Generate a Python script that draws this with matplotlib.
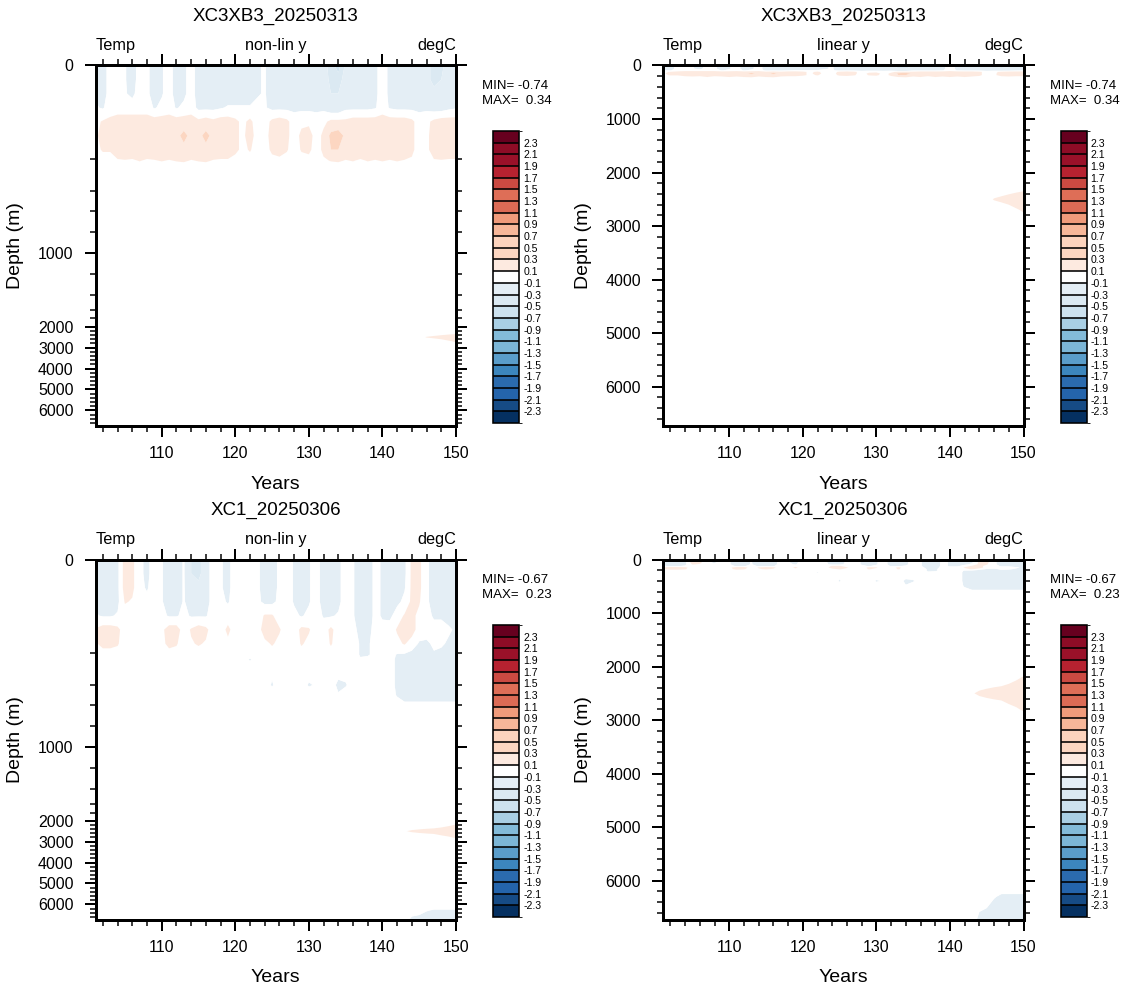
import numpy as np
import matplotlib
matplotlib.use("Agg")
import matplotlib.pyplot as plt
import matplotlib.colorbar as mcolorbar
from matplotlib.colors import ListedColormap, BoundaryNorm
from matplotlib.ticker import FixedLocator, NullFormatter

plt.rcParams["font.family"] = ["Liberation Sans", "DejaVu Sans"]

# ---------------------------------------------------------------- data
years = np.arange(101, 151)          # annual means, model years 101..150

# XC3XB3_20250313 : temperature anomaly (degC), rows = depth levels
depth_xc3xb3 = [0, 30, 60, 90, 120, 150, 180, 210, 240, 2000, 2300, 2500, 2700, 3000, 6725]
temp_xc3xb3 = [
    # 0 m
    [-.12, -.2, 0, 0, -.08, -.2, 0, -.05, -.2, -.12,
     0, -.2, -.15, 0, -.2, -.2, -.2, -.15, -.2, -.2,
     -.2, -.2, -.12, -.08, -.2, -.2, -.2, -.2, -.2, -.2,
     -.2, -.2, -.4, -.6, -.25, -.2, -.2, -.2, -.15, 0,
     -.15, -.2, -.2, -.2, -.2, -.25, -.35, -.35, -.2, -.2],
    # 30 m
    [-.12, -.2, 0, 0, -.08, -.2, 0, -.05, -.2, -.12,
     0, -.2, -.15, 0, -.2, -.2, -.2, -.15, -.2, -.2,
     -.2, -.2, -.12, -.08, -.2, -.2, -.2, -.2, -.2, -.2,
     -.2, -.2, -.35, -.4, -.2, -.2, -.2, -.2, -.15, 0,
     -.15, -.2, -.2, -.2, -.2, -.25, -.35, -.3, -.2, -.2],
    # 60 m
    [-.12, -.2, 0, 0, -.08, -.15, 0, -.05, -.2, -.12,
     0, -.2, -.15, 0, -.2, -.2, -.2, -.15, -.2, -.2,
     -.2, -.2, -.12, -.08, -.2, -.2, -.2, -.2, -.2, -.2,
     -.2, -.2, -.3, -.3, -.2, -.2, -.2, -.2, -.15, 0,
     -.15, -.2, -.2, -.2, -.2, -.2, -.25, -.25, -.2, -.2],
    # 90 m
    [-.08, -.12, 0, 0, 0, 0, 0, 0, -.12, -.05,
     0, -.12, -.05, 0, -.15, -.15, -.15, -.12, -.08, -.08,
     -.08, -.08, -.05, -.08, -.15, -.15, -.15, -.15, -.15, -.15,
     -.15, -.15, -.25, -.25, -.15, -.15, -.15, -.15, -.12, 0,
     -.12, -.15, -.15, -.15, -.15, -.15, -.2, -.2, -.15, -.12],
    # 120 m
    [.05, .12, .15, .2, .2, .2, .2, .2, .2, .2,
     .2, .2, .2, .2, .15, .2, .15, .2, .2, .15,
     .05, .15, 0, 0, .15, .2, .15, 0, .05, .05,
     0, .05, .15, .15, .15, .2, .2, .2, .2, .2,
     .2, .2, .2, .15, 0, .05, .15, .2, .2, .2],
    # 150 m
    [.05, .2, .2, .2, .2, .2, .2, .2, .2, .2,
     .2, .25, .35, .25, .25, .35, .25, .2, .2, .15,
     .05, .2, 0, 0, .2, .2, .15, 0, .15, .2,
     0, .15, .35, .4, .25, .2, .2, .2, .2, .2,
     .2, .2, .2, .15, 0, .05, .2, .2, .2, .2],
    # 180 m
    [.05, .12, .12, .2, .2, .2, .2, .2, .2, .2,
     .2, .2, .25, .2, .2, .25, .2, .2, .2, .15,
     .05, .12, 0, 0, .15, .2, .12, 0, .12, .15,
     0, .15, .3, .3, .2, .2, .2, .2, .2, .2,
     .2, .2, .2, .15, 0, .05, .2, .2, .2, .2],
    # 210 m
    [0, 0, 0, .05, .08, .05, .12, .05, .08, .12,
     .08, .12, .15, .08, .12, .15, .08, .05, .05, 0,
     0, 0, 0, 0, 0, 0, 0, 0, 0, 0,
     0, .05, .12, .15, .08, .12, .05, .12, .08, .12,
     .08, .12, .08, .05, 0, 0, .05, .08, .05, .05],
    # 240 m
    [0, 0, 0, 0, 0, 0, 0, 0, 0, 0,
     0, 0, 0, 0, 0, 0, 0, 0, 0, 0,
     0, 0, 0, 0, 0, 0, 0, 0, 0, 0,
     0, 0, 0, 0, 0, 0, 0, 0, 0, 0,
     0, 0, 0, 0, 0, 0, 0, 0, 0, 0],
    # 2000 m
    [0, 0, 0, 0, 0, 0, 0, 0, 0, 0,
     0, 0, 0, 0, 0, 0, 0, 0, 0, 0,
     0, 0, 0, 0, 0, 0, 0, 0, 0, 0,
     0, 0, 0, 0, 0, 0, 0, 0, 0, 0,
     0, 0, 0, 0, 0, 0, 0, 0, 0, 0],
    # 2300 m
    [0, 0, 0, 0, 0, 0, 0, 0, 0, 0,
     0, 0, 0, 0, 0, 0, 0, 0, 0, 0,
     0, 0, 0, 0, 0, 0, 0, 0, 0, 0,
     0, 0, 0, 0, 0, 0, 0, 0, 0, 0,
     0, 0, 0, 0, 0, 0, 0, .02, .04, .06],
    # 2500 m
    [0, 0, 0, 0, 0, 0, 0, 0, 0, 0,
     0, 0, 0, 0, 0, 0, 0, 0, 0, 0,
     0, 0, 0, 0, 0, 0, 0, 0, 0, 0,
     0, 0, 0, 0, 0, 0, 0, 0, 0, 0,
     0, 0, 0, 0, .05, .11, .14, .17, .2, .22],
    # 2700 m
    [0, 0, 0, 0, 0, 0, 0, 0, 0, 0,
     0, 0, 0, 0, 0, 0, 0, 0, 0, 0,
     0, 0, 0, 0, 0, 0, 0, 0, 0, 0,
     0, 0, 0, 0, 0, 0, 0, 0, 0, 0,
     0, 0, 0, 0, 0, 0, 0, .03, .08, .12],
    # 3000 m
    [0, 0, 0, 0, 0, 0, 0, 0, 0, 0,
     0, 0, 0, 0, 0, 0, 0, 0, 0, 0,
     0, 0, 0, 0, 0, 0, 0, 0, 0, 0,
     0, 0, 0, 0, 0, 0, 0, 0, 0, 0,
     0, 0, 0, 0, 0, 0, 0, 0, 0, 0],
    # 6725 m
    [0, 0, 0, 0, 0, 0, 0, 0, 0, 0,
     0, 0, 0, 0, 0, 0, 0, 0, 0, 0,
     0, 0, 0, 0, 0, 0, 0, 0, 0, 0,
     0, 0, 0, 0, 0, 0, 0, 0, 0, 0,
     0, 0, 0, 0, 0, 0, 0, 0, 0, 0],
]

# XC1_20250306 : temperature anomaly (degC)
depth_xc1 = [0, 30, 60, 90, 120, 150, 180, 210, 240, 300, 400, 500, 600,
             1000, 2000, 2200, 2500, 2800, 3000, 6000, 6300, 6725]
temp_xc1 = [
    # 0 m
    [-.15, -.2, -.2, -.15, .2, .15, -.05, -.15, 0, -.08,
     -.2, -.2, -.08, -.3, -.35, -.2, 0, -.08, -.15, 0,
     0, 0, -.05, -.2, -.2, -.05, 0, -.12, -.2, -.12,
     0, -.2, -.2, -.15, 0, -.08, -.2, -.2, -.05, -.12,
     -.3, -.2, -.15, .15, .15, -.05, -.2, -.2, -.2, -.1],
    # 30 m
    [-.15, -.2, -.2, -.15, .2, .15, -.05, -.15, 0, -.08,
     -.2, -.2, -.08, -.3, -.35, -.2, 0, -.08, -.15, 0,
     0, 0, -.05, -.2, -.2, -.05, 0, -.12, -.2, -.12,
     0, -.2, -.2, -.15, 0, -.08, -.2, -.2, -.05, -.12,
     -.3, -.2, -.15, .15, .15, -.05, -.2, -.2, -.2, -.1],
    # 60 m
    [-.15, -.2, -.2, -.15, .2, .15, -.05, -.12, 0, -.08,
     -.2, -.2, -.08, -.25, -.25, -.2, 0, -.08, -.15, 0,
     0, 0, -.05, -.2, -.2, -.05, 0, -.12, -.2, -.12,
     0, -.2, -.2, -.15, 0, -.08, -.2, -.2, -.05, -.12,
     -.25, -.2, -.12, .15, .15, -.05, -.2, -.2, -.2, -.12],
    # 90 m
    [-.15, -.2, -.2, -.15, .12, .08, 0, -.05, 0, -.08,
     -.2, -.2, -.08, -.2, -.2, -.2, 0, -.05, -.12, 0,
     0, 0, -.05, -.15, -.15, -.05, 0, -.12, -.2, -.12,
     0, -.2, -.2, -.15, 0, -.08, -.2, -.2, -.05, -.12,
     -.2, -.15, -.05, .15, .12, -.05, -.2, -.2, -.2, -.15],
    # 120 m
    [-.08, -.12, -.12, -.08, 0, 0, 0, 0, 0, -.05,
     -.12, -.12, -.05, -.12, -.12, -.12, 0, 0, 0, 0,
     0, 0, 0, .12, .12, 0, 0, -.05, -.12, -.05,
     0, -.12, -.12, -.08, 0, -.08, -.2, -.2, -.05, -.12,
     -.15, 0, .12, .15, .05, -.05, -.12, -.12, -.15, -.15],
    # 150 m
    [.12, .2, .2, .15, 0, 0, 0, 0, 0, .05,
     .2, .2, 0, .12, .2, .15, 0, 0, .15, 0,
     0, 0, 0, .2, .2, .12, 0, 0, .15, .12,
     0, 0, .15, 0, 0, -.05, -.15, -.15, -.05, -.05,
     0, .12, .2, .2, 0, -.05, -.05, -.05, -.08, -.12],
    # 180 m
    [.08, .15, .15, .12, 0, 0, 0, 0, 0, .05,
     .15, .12, 0, .08, .12, .08, 0, 0, .05, 0,
     0, 0, 0, .05, .12, .05, 0, 0, .12, .05,
     0, 0, .12, 0, 0, 0, -.12, -.12, -.05, 0,
     0, .05, .12, 0, -.12, -.12, -.08, -.08, -.12, -.15],
    # 210 m
    [0, 0, 0, 0, 0, 0, 0, 0, 0, 0,
     0, 0, 0, 0, 0, 0, 0, 0, 0, 0,
     0, 0, 0, 0, 0, 0, 0, 0, 0, 0,
     0, 0, 0, 0, 0, 0, -.12, -.12, -.05, 0,
     0, -.12, -.15, -.2, -.2, -.15, -.12, -.15, -.15, -.2],
    # 240 m
    [0, 0, 0, 0, 0, 0, 0, 0, 0, 0,
     0, 0, 0, 0, 0, 0, 0, 0, 0, 0,
     0, -.12, 0, 0, 0, 0, 0, 0, 0, 0,
     0, 0, 0, 0, 0, 0, -.08, -.05, 0, 0,
     0, -.15, -.2, -.2, -.2, -.2, -.2, -.2, -.2, -.2],
    # 300 m
    [0, 0, 0, 0, 0, 0, 0, 0, 0, 0,
     0, 0, 0, 0, 0, 0, 0, 0, 0, 0,
     0, 0, 0, 0, -.05, 0, 0, 0, 0, 0,
     0, 0, 0, 0, 0, 0, 0, 0, 0, 0,
     0, -.15, -.2, -.2, -.2, -.2, -.2, -.2, -.2, -.2],
    # 400 m
    [0, 0, 0, 0, 0, 0, 0, 0, 0, 0,
     0, 0, 0, 0, 0, 0, 0, 0, 0, 0,
     0, 0, 0, 0, -.12, 0, 0, 0, 0, -.12,
     -.08, 0, 0, -.15, -.12, 0, 0, 0, 0, 0,
     0, -.15, -.2, -.2, -.2, -.2, -.2, -.2, -.2, -.2],
    # 500 m
    [0, 0, 0, 0, 0, 0, 0, 0, 0, 0,
     0, 0, 0, 0, 0, 0, 0, 0, 0, 0,
     0, 0, 0, 0, 0, 0, 0, 0, 0, 0,
     0, 0, 0, -.08, 0, 0, 0, 0, 0, 0,
     0, -.12, -.2, -.2, -.2, -.2, -.2, -.2, -.2, -.2],
    # 600 m
    [0, 0, 0, 0, 0, 0, 0, 0, 0, 0,
     0, 0, 0, 0, 0, 0, 0, 0, 0, 0,
     0, 0, 0, 0, 0, 0, 0, 0, 0, 0,
     0, 0, 0, 0, 0, 0, 0, 0, 0, 0,
     0, 0, -.05, -.05, -.05, -.05, -.05, -.05, -.05, -.05],
    # 1000 m
    [0, 0, 0, 0, 0, 0, 0, 0, 0, 0,
     0, 0, 0, 0, 0, 0, 0, 0, 0, 0,
     0, 0, 0, 0, 0, 0, 0, 0, 0, 0,
     0, 0, 0, 0, 0, 0, 0, 0, 0, 0,
     0, 0, 0, 0, 0, 0, 0, 0, 0, 0],
    # 2000 m
    [0, 0, 0, 0, 0, 0, 0, 0, 0, 0,
     0, 0, 0, 0, 0, 0, 0, 0, 0, 0,
     0, 0, 0, 0, 0, 0, 0, 0, 0, 0,
     0, 0, 0, 0, 0, 0, 0, 0, 0, 0,
     0, 0, 0, 0, 0, 0, 0, 0, 0, 0],
    # 2200 m
    [0, 0, 0, 0, 0, 0, 0, 0, 0, 0,
     0, 0, 0, 0, 0, 0, 0, 0, 0, 0,
     0, 0, 0, 0, 0, 0, 0, 0, 0, 0,
     0, 0, 0, 0, 0, 0, 0, 0, 0, 0,
     0, 0, 0, 0, 0, 0, 0, .03, .07, .11],
    # 2500 m
    [0, 0, 0, 0, 0, 0, 0, 0, 0, 0,
     0, 0, 0, 0, 0, 0, 0, 0, 0, 0,
     0, 0, 0, 0, 0, 0, 0, 0, 0, 0,
     0, 0, 0, 0, 0, 0, 0, 0, 0, 0,
     0, 0, .09, .12, .14, .16, .18, .2, .22, .24],
    # 2800 m
    [0, 0, 0, 0, 0, 0, 0, 0, 0, 0,
     0, 0, 0, 0, 0, 0, 0, 0, 0, 0,
     0, 0, 0, 0, 0, 0, 0, 0, 0, 0,
     0, 0, 0, 0, 0, 0, 0, 0, 0, 0,
     0, 0, 0, 0, 0, 0, 0, .05, .08, .12],
    # 3000 m
    [0, 0, 0, 0, 0, 0, 0, 0, 0, 0,
     0, 0, 0, 0, 0, 0, 0, 0, 0, 0,
     0, 0, 0, 0, 0, 0, 0, 0, 0, 0,
     0, 0, 0, 0, 0, 0, 0, 0, 0, 0,
     0, 0, 0, 0, 0, 0, 0, 0, 0, 0],
    # 6000 m
    [0, 0, 0, 0, 0, 0, 0, 0, 0, 0,
     0, 0, 0, 0, 0, 0, 0, 0, 0, 0,
     0, 0, 0, 0, 0, 0, 0, 0, 0, 0,
     0, 0, 0, 0, 0, 0, 0, 0, 0, 0,
     0, 0, 0, 0, 0, 0, 0, 0, 0, 0],
    # 6300 m
    [0, 0, 0, 0, 0, 0, 0, 0, 0, 0,
     0, 0, 0, 0, 0, 0, 0, 0, 0, 0,
     0, 0, 0, 0, 0, 0, 0, 0, 0, 0,
     0, 0, 0, 0, 0, 0, 0, 0, 0, 0,
     0, 0, 0, 0, -.05, -.09, -.12, -.12, -.12, -.12],
    # 6725 m
    [0, 0, 0, 0, 0, 0, 0, 0, 0, 0,
     0, 0, 0, 0, 0, 0, 0, 0, 0, 0,
     0, 0, 0, 0, 0, 0, 0, 0, 0, 0,
     0, 0, 0, 0, 0, 0, 0, 0, 0, 0,
     0, 0, 0, -.15, -.15, -.2, -.2, -.2, -.2, -.2],
]

titles = ["XC3XB3_20250313", "XC1_20250306"]
field_min = [-0.74, -0.67]
field_max = [0.34, 0.23]

levels = [-2.3, -2.1, -1.9, -1.7, -1.5, -1.3, -1.1, -0.9, -0.7, -0.5, -0.3, -0.1,
          0.1, 0.3, 0.5, 0.7, 0.9, 1.1, 1.3, 1.5, 1.7, 1.9, 2.1, 2.3]

# ---------------------------------------------------------------- style
fill_colors = ["#053061", "#164b85", "#2464ab", "#2b6bae", "#3c86bd", "#5a9dca",
               "#7cb6d6", "#83bbd9", "#a9cfe4", "#cde2ef", "#dbe9f2", "#e4eef5",
               "#ffffff",
               "#fdeae0", "#fcd6c1", "#fcd3bd", "#f7b799", "#f09b7b", "#dc6b55",
               "#de6e57", "#cb4a42", "#b72230", "#9a1129", "#8e0c26", "#67001f"]

cmap_fill = ListedColormap(fill_colors[1:-1])
cmap_fill.set_under(fill_colors[0])
cmap_fill.set_over(fill_colors[-1])
norm_fill = BoundaryNorm(levels, cmap_fill.N)

# irregular ("non-lin") depth axis: depth -> fraction of axis height
DEPTH_KNOTS = [0, 200, 400, 600, 800, 1000, 1200, 1400, 1600, 1800, 2000, 6725]
POS_KNOTS = np.array([0, 93.5, 125.5, 145.5, 166.5, 187.2, 208.5, 229.5,
                      244.5, 253.0, 261.2, 360.0]) / 360.0
ZMAX = 6725


def nonlin_fwd(d):
    return np.interp(d, DEPTH_KNOTS, POS_KNOTS)


def nonlin_inv(p):
    return np.interp(p, POS_KNOTS, DEPTH_KNOTS)


W, H = 1132, 991
fig = plt.figure(figsize=(W / 100, H / 100), dpi=100)


def px_rect(left, top, w, h):
    return [left / W, 1 - (top + h) / H, w / W, h / H]


def ftext(x, y, s, **kw):
    fig.text(x / W, 1 - y / H, s, **kw)


PX = 72.0 / 100.0   # points per pixel
panel_left = [95.5, 663.0]
row_top = [65.5, 559.5]

for r, (depth, temp) in enumerate([(depth_xc3xb3, temp_xc3xb3), (depth_xc1, temp_xc1)]):
    for c, ytype in enumerate(["non-lin y", "linear y"]):
        left = panel_left[c]
        top = row_top[r]
        ax = fig.add_axes(px_rect(left, top, 360.5, 360))
        if c == 0:
            ax.set_yscale("function", functions=(nonlin_fwd, nonlin_inv))
        ax.contourf(years, depth, np.array(temp), levels=levels, cmap=cmap_fill,
                    norm=norm_fill, extend="both", antialiased=True)
        ax.set_xlim(101, 150)
        ax.set_ylim(ZMAX, 0)

        ax.xaxis.set_major_locator(FixedLocator([110, 120, 130, 140, 150]))
        ax.xaxis.set_minor_locator(FixedLocator([v for v in range(102, 150, 2) if v % 10]))
        ax.yaxis.set_major_locator(FixedLocator([0, 1000, 2000, 3000, 4000, 5000, 6000]))
        if c == 0:
            yminor = [200, 400, 600, 800, 1200, 1400, 1600, 1800] + \
                     [v for v in range(2200, 6725, 200) if v % 1000]
        else:
            yminor = [v for v in range(200, 6725, 200) if v % 1000]
        ax.yaxis.set_minor_locator(FixedLocator(yminor))
        ax.yaxis.set_minor_formatter(NullFormatter())
        ax.set_xticklabels(["110", "120", "130", "140", "150"])
        ax.set_yticklabels(["0", "1000", "2000", "3000", "4000", "5000", "6000"])

        ax.tick_params(which="both", direction="out", top=True, right=True,
                       labelsize=11.5, color="black")
        ax.tick_params(which="major", length=11 * PX, width=2.0 * PX)
        ax.tick_params(which="minor", length=6 * PX, width=1.5 * PX)
        ax.tick_params(axis="x", which="major", pad=10 * PX)
        ax.tick_params(axis="y", which="major", pad=11 * PX)
        for sp in ax.spines.values():
            sp.set_linewidth(3.0 * PX)

        cx = left + 180
        ftext(cx, top - 49.5, titles[r], ha="center", va="center", fontsize=13.5)
        ftext(left, top - 15.5, "Temp", ha="left", va="baseline", fontsize=11.7)
        ftext(cx, top - 15.5, ytype, ha="center", va="baseline", fontsize=11.7)
        ftext(left + 360.5, top - 15.5, "degC", ha="right", va="baseline", fontsize=11.7)
        ftext(cx, top + 418.5, "Years", ha="center", va="center", fontsize=14)
        ftext(left - 80, top + 180, "Depth (m)", ha="center", va="center",
              rotation=90, fontsize=14)

        # MIN / MAX annotation
        ftext(left + 386.5, top + 20.5, "MIN= %.2f" % field_min[r], ha="left",
              va="center", fontsize=9.5)
        ftext(left + 386.5, top + 35.5, "MAX=  %.2f" % field_max[r], ha="left",
              va="center", fontsize=9.5)

        # label bar
        cax = fig.add_axes(px_rect(left + 397.5, top + 65.5, 26, 292))
        bounds = [-2.5] + levels + [2.5]
        cb = mcolorbar.ColorbarBase(cax, cmap=ListedColormap(fill_colors),
                                    norm=BoundaryNorm(bounds, len(fill_colors)),
                                    boundaries=bounds, ticks=levels,
                                    spacing="uniform", drawedges=True,
                                    orientation="vertical")
        cb.set_ticklabels(["%.1f" % v for v in levels])
        cb.outline.set_linewidth(1.6 * PX)
        cb.dividers.set_linewidth(1.6 * PX)
        cax.tick_params(length=0, labelsize=7.6, pad=3)

fig.savefig("out.png", dpi=100)
